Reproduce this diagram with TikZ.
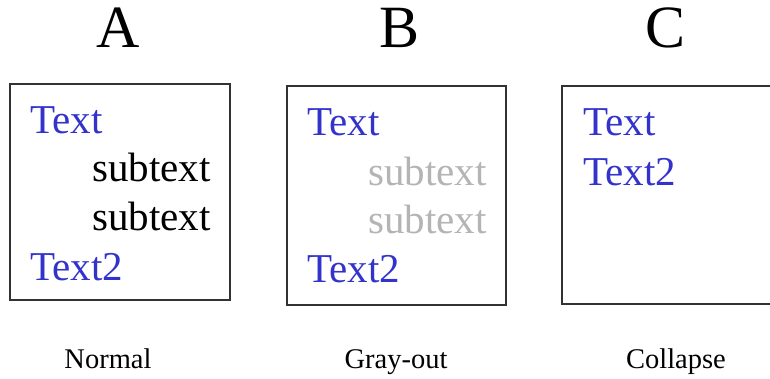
\documentclass[tikz,border=0pt]{standalone}
\usepackage{fontspec}
\setmainfont{Liberation Serif}
\definecolor{txtblue}{RGB}{51,51,204}
\definecolor{txtgray}{RGB}{180,180,180}
\definecolor{boxline}{RGB}{50,50,50}
\begin{document}
\begin{tikzpicture}[x=1pt,y=-1pt,
  panel/.style={draw=boxline,line width=2pt},
  head/.style={font=\fontsize{60}{60}\selectfont,anchor=base,inner sep=0pt},
  item/.style={font=\fontsize{41}{41}\selectfont,anchor=base west,inner sep=0pt,text=txtblue},
  sub/.style={font=\fontsize{41}{41}\selectfont,anchor=base west,inner sep=0pt,text=black},
  subgray/.style={sub,text=txtgray},
  caption/.style={font=\fontsize{28.5}{28.5}\selectfont,anchor=base,inner sep=0pt}]
\useasboundingbox (0,0) rectangle (770,378);
\clip (0,0) rectangle (770,378);
% headings
\node[head] (hA) at (118,47) {A};
\node[head] (hB) at (400,47) {B};
\node[head] (hC) at (665,47) {C};
% panels
\draw[panel] (10,84) rectangle (230,300);
\draw[panel] (287,86) rectangle (506,305);
\draw[panel] (562,86) rectangle (800,304);
% panel A
\node[item] (a1) at (30,133) {Text};
\node[sub] (a2) at (92,181) {subtext};
\node[sub] (a3) at (92,230) {subtext};
\node[item] (a4) at (30,280) {Text2};
% panel B
\node[item] (b1) at (307,135) {Text};
\node[subgray] (b2) at (368,185) {subtext};
\node[subgray] (b3) at (368,233) {subtext};
\node[item] (b4) at (307,282) {Text2};
% panel C
\node[item] (c1) at (583,135) {Text};
\node[item] (c2) at (583,185) {Text2};
% captions
\node[caption] (la) at (108,368) {Normal};
\node[caption] (lb) at (396,368) {Gray-out};
\node[caption] (lc) at (676,368) {Collapse};
\end{tikzpicture}
\end{document}
